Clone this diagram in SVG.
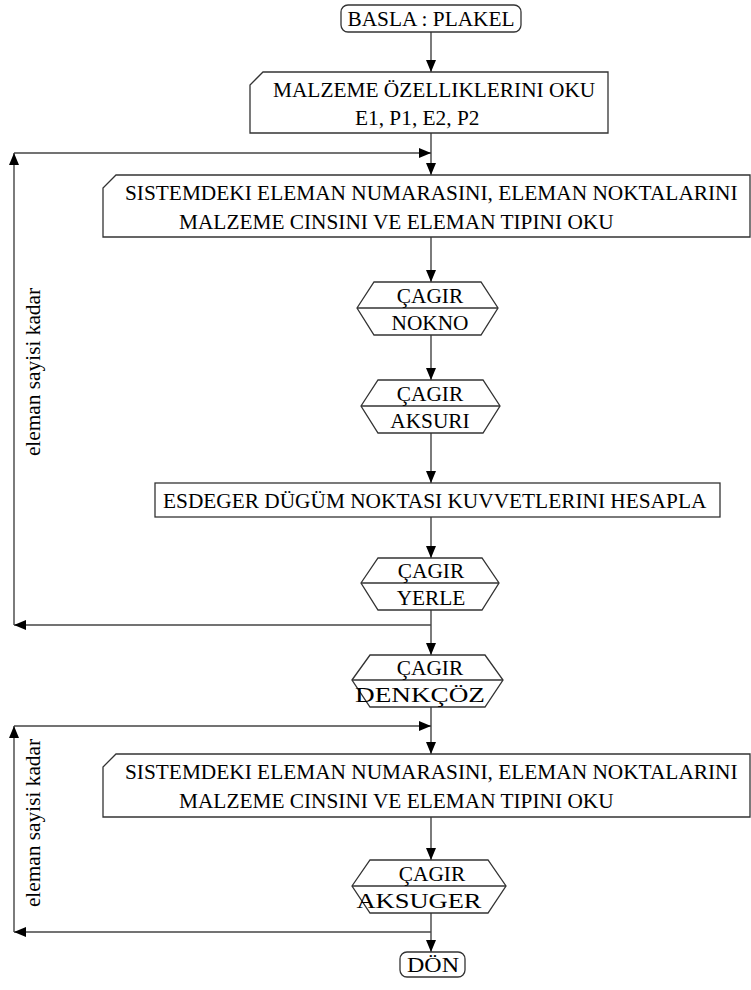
<svg xmlns="http://www.w3.org/2000/svg" width="751" height="990" viewBox="0 0 751 990">
<style>
  .shape { fill: #fff; stroke: #333; stroke-width: 1.3; }
  .mid { fill: none; stroke: #333; stroke-width: 1.3; }
  .conn { fill: none; stroke: #444; stroke-width: 1.4; }
  text { font-family: "Liberation Serif", "Times New Roman", "DejaVu Serif", serif; font-size: 21.33px; fill: #000; }
  .c { text-anchor: middle; }
</style>
<defs>
  <marker id="arr" markerUnits="userSpaceOnUse" markerWidth="13" markerHeight="11" refX="12" refY="5" orient="auto">
    <path d="M0,0 L12,5 L0,10 z" fill="#000"/>
  </marker>
</defs>

<g id="connectors">
  <path class="conn" d="M431,32 V72" marker-end="url(#arr)"/>
  <path class="conn" d="M431,133 V175" marker-end="url(#arr)"/>
  <path class="conn" d="M14,153 H431" marker-end="url(#arr)"/>
  <path class="conn" d="M431,237 V282" marker-end="url(#arr)"/>
  <path class="conn" d="M431,335 V380" marker-end="url(#arr)"/>
  <path class="conn" d="M431,433 V483" marker-end="url(#arr)"/>
  <path class="conn" d="M431,517 V558" marker-end="url(#arr)"/>
  <path class="conn" d="M431,610 V655" marker-end="url(#arr)"/>
  <path class="conn" d="M431,625 H14" marker-end="url(#arr)"/>
  <path class="conn" d="M14,625 V153" marker-end="url(#arr)"/>
  <path class="conn" d="M431,707 V754" marker-end="url(#arr)"/>
  <path class="conn" d="M14,726 H431" marker-end="url(#arr)"/>
  <path class="conn" d="M431,817 V860" marker-end="url(#arr)"/>
  <path class="conn" d="M431,913 V952" marker-end="url(#arr)"/>
  <path class="conn" d="M431,932 H14" marker-end="url(#arr)"/>
  <path class="conn" d="M14,932 V726" marker-end="url(#arr)"/>
  <text transform="translate(40,372) rotate(-90)" class="c">eleman sayisi kadar</text>
  <text transform="translate(40,823) rotate(-90)" class="c">eleman sayisi kadar</text>
</g>

<g id="start">
  <rect class="shape" x="341" y="5" width="180" height="27" rx="7"/>
  <text x="431" y="26" class="c">BASLA : PLAKEL</text>
</g>

<g id="read-material">
  <polygon class="shape" points="263,72 608,72 608,133 250,133 250,85"/>
  <text x="273" y="97">MALZEME ÖZELLIKLERINI OKU</text>
  <text x="355" y="125">E1, P1, E2, P2</text>
</g>

<g id="read-elements-1">
  <polygon class="shape" points="116,175 750,175 750,237 103,237 103,188"/>
  <text x="125" y="200">SISTEMDEKI ELEMAN NUMARASINI, ELEMAN NOKTALARINI</text>
  <text x="179" y="229">MALZEME CINSINI VE ELEMAN TIPINI OKU</text>
</g>

<g id="call-nokno">
  <polygon class="shape" points="357,308 374,282 481,282 498,308 481,335 374,335"/>
  <line class="mid" x1="357" y1="308" x2="498" y2="308"/>
  <text x="430" y="303" class="c">ÇAGIR</text>
  <text x="430" y="330" class="c">NOKNO</text>
</g>

<g id="call-aksuri">
  <polygon class="shape" points="361,406 378,380 483,380 500,406 483,433 378,433"/>
  <line class="mid" x1="361" y1="406" x2="500" y2="406"/>
  <text x="430" y="401" class="c">ÇAGIR</text>
  <text x="430" y="428" class="c">AKSURI</text>
</g>

<g id="compute-forces">
  <rect class="shape" x="155" y="483" width="565" height="34"/>
  <text x="163" y="508">ESDEGER DÜGÜM NOKTASI KUVVETLERINI HESAPLA</text>
</g>

<g id="call-yerle">
  <polygon class="shape" points="361,583 378,558 482,558 499,583 482,610 378,610"/>
  <line class="mid" x1="361" y1="583" x2="499" y2="583"/>
  <text x="431" y="578" class="c">ÇAGIR</text>
  <text x="431" y="605" class="c">YERLE</text>
</g>

<g id="call-denkcoz">
  <polygon class="shape" points="352,680 370,655 485,655 503,680 485,707 370,707"/>
  <line class="mid" x1="352" y1="680" x2="503" y2="680"/>
  <text x="430" y="675" class="c">ÇAGIR</text>
  <text x="420" y="702" class="c" textLength="130" lengthAdjust="spacingAndGlyphs">DENKÇÖZ</text>
</g>

<g id="read-elements-2">
  <polygon class="shape" points="116,754 750,754 750,817 103,817 103,767"/>
  <text x="125" y="779">SISTEMDEKI ELEMAN NUMARASINI, ELEMAN NOKTALARINI</text>
  <text x="179" y="808">MALZEME CINSINI VE ELEMAN TIPINI OKU</text>
</g>

<g id="call-aksuger">
  <polygon class="shape" points="352,886 370,860 488,860 506,886 488,913 370,913"/>
  <line class="mid" x1="352" y1="886" x2="506" y2="886"/>
  <text x="432" y="881" class="c">ÇAGIR</text>
  <text x="419" y="908" class="c" textLength="125" lengthAdjust="spacingAndGlyphs">AKSUGER</text>
</g>

<g id="end">
  <rect class="shape" x="400" y="952" width="65" height="25" rx="7"/>
  <text x="433" y="972" class="c" textLength="52" lengthAdjust="spacingAndGlyphs">DÖN</text>
</g>
</svg>
